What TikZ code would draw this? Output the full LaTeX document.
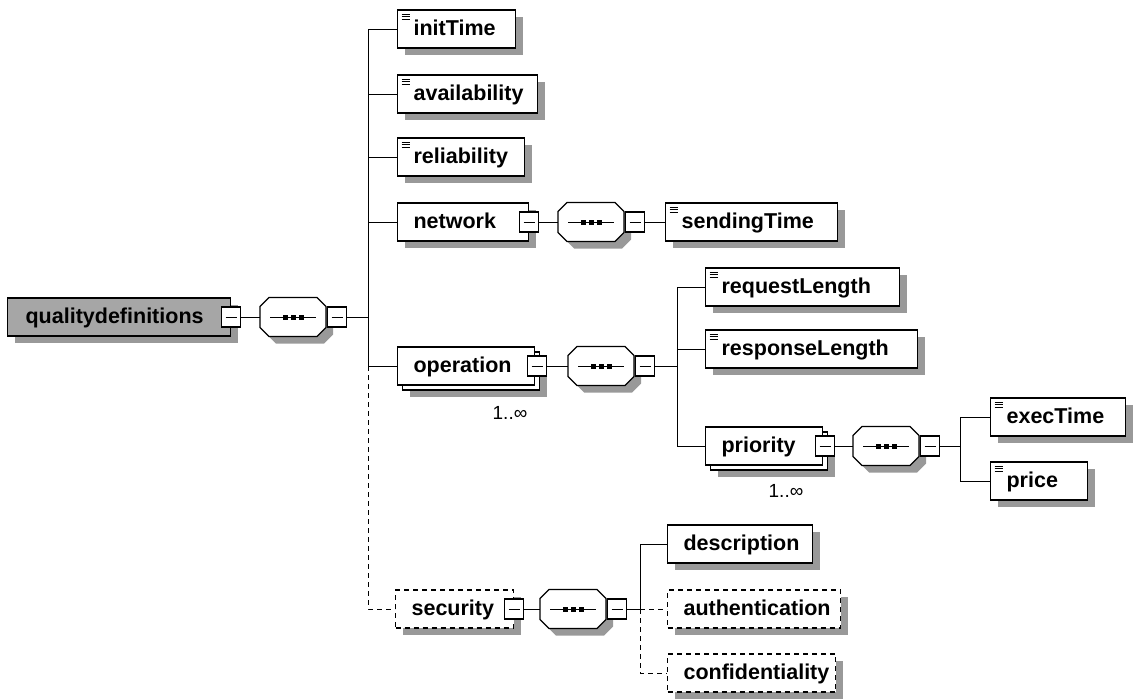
\documentclass[tikz,border=0pt]{standalone}
\usepackage{fontspec}
\setmainfont{Liberation Sans}
\usetikzlibrary{calc,shadows}

\newcommand\tagfont{\bfseries\fontsize{21.5}{25}\selectfont}
\newcommand\multfont{\fontsize{19}{23}\selectfont}

% outline of a sequence compositor (octagon) around node #1, moved by (#2,#3)
\newcommand\octpath[3]{%
  ($(#1.north west)+(9+#2,#3)$) -- ($(#1.north east)+(-9+#2,#3)$) --
  ($(#1.north east)+(#2,9+#3)$) -- ($(#1.south east)+(#2,-9+#3)$) --
  ($(#1.south east)+(-9+#2,#3)$) -- ($(#1.south west)+(9+#2,#3)$) --
  ($(#1.south west)+(#2,-9+#3)$) -- ($(#1.north west)+(#2,9+#3)$) -- cycle}

% shadow, outline and the dotted line of a sequence compositor
\newcommand\seqdraw[1]{%
  \fill[black!40] \octpath{#1}{7}{7};
  \draw[line width=1.2pt, fill=white] \octpath{#1}{0}{0};
  \draw[line width=1pt] ([xshift=10pt]#1.west) -- ([xshift=-10pt]#1.east);
  \foreach \d in {-8,0,8}
    \fill ([xshift=\d pt]#1.center) ++(-2.5pt,-2.5pt) rectangle ++(5pt,5pt);
}

\tikzset{
  wire/.style={line width=1pt},
  opt/.style={dash pattern=on 5pt off 4pt},
  shade/.style={drop shadow={shadow xshift=7pt,shadow yshift=-7pt,fill=black!40,opacity=1}},
  boxbase/.style={draw, fill=white, line width=1.2pt, anchor=west, inner xsep=16pt, inner ysep=0pt,
    minimum height=38pt, text height=16pt, text depth=3pt, align=left, text width=#1, font=\tagfont},
  elem/.style={boxbase=#1, shade},
  many/.style={boxbase=#1,
    drop shadow={shadow xshift=12pt,shadow yshift=-12pt,fill=black!40,opacity=1},
    copy shadow={shadow xshift=5pt,shadow yshift=-5pt,line width=1.2pt}},
  typed/.style={path picture={
      \foreach \d in {4,6.8,9.6}
        \draw[line width=0.7pt] ([xshift=4pt,yshift=-\d pt]path picture bounding box.north west) -- ++(8pt,0pt);}},
  minus/.style={draw, fill=white, line width=1.2pt, minimum width=19pt, minimum height=20pt, inner sep=0pt,
    path picture={\draw[line width=1pt] ([xshift=4pt]path picture bounding box.west)
      -- ([xshift=-4pt]path picture bounding box.east);}},
  seq/.style={minimum width=66pt, minimum height=39pt, inner sep=0pt, outer sep=0pt, anchor=west},
  mult/.style={font=\multfont, inner sep=0pt}
}

\begin{document}
\begin{tikzpicture}[x=1pt,y=-1pt]
\useasboundingbox (0,0) rectangle (1133,699);

% root element and its sequence
\node[elem=187pt, inner xsep=18pt, fill=black!35] (qd) at (7,317) {qualitydefinitions};
\node[minus] (qdm) at (qd.east) {};
\node[seq] (qds) at (260,317) {};
\seqdraw{qds}
\node[minus, anchor=west] (qdsm) at ([xshift=1pt]qds.east) {};
\coordinate (b1) at (368,317);
\draw[wire] (qdm) -- (qds);
\draw[wire] (qdsm) -- (b1);

% children of the root sequence
\node[elem=86pt, typed] (initTime) at (397,29) {initTime};
\node[elem=108pt, typed] (availability) at (397,94) {availability};
\node[elem=95pt, typed] (reliability) at (397,157) {reliability};
\node[elem=99pt] (network) at (397,222) {network};
\node[many=105pt] (operation) at (397,366) {operation};
\node[elem=86pt, opt] (security) at (395,609) {security};

\draw[wire] (b1) |- (initTime.west);
\draw[wire] (b1) |- (availability.west);
\draw[wire] (b1) |- (reliability.west);
\draw[wire] (b1) |- (network.west);
\draw[wire] (b1) |- (operation.west);
\draw[wire, opt] (b1 |- operation.west) |- (security.west);

% network
\node[minus] (netm) at (network.east) {};
\node[seq] (nets) at (558,222) {};
\seqdraw{nets}
\node[minus, anchor=west] (netsm) at ([xshift=1pt]nets.east) {};
\node[elem=140pt, typed] (sendingTime) at (665,222) {sendingTime};
\draw[wire] (netm) -- (nets);
\draw[wire] (netsm) -- (sendingTime);

% operation
\node[minus] (opm) at ([xshift=2pt]operation.east) {};
\node[mult] (opmult) at (510,413) {1..∞};
\node[seq] (ops) at (568,366) {};
\seqdraw{ops}
\node[minus, anchor=west] (opsm) at ([xshift=1pt]ops.east) {};
\coordinate (b2) at (677,366);
\draw[wire] (opm) -- (ops);
\draw[wire] (opsm) -- (b2);

\node[elem=162pt, typed] (requestLength) at (705,287) {requestLength};
\node[elem=180pt, typed] (responseLength) at (705,349) {responseLength};
\node[many=85pt] (priority) at (705,446) {priority};
\draw[wire] (b2) |- (requestLength.west);
\draw[wire] (b2) |- (responseLength.west);
\draw[wire] (b2) |- (priority.west);

% priority
\node[minus] (prm) at ([xshift=2pt]priority.east) {};
\node[mult] (prmult) at (786,491) {1..∞};
\node[seq] (prs) at (853,446) {};
\seqdraw{prs}
\node[minus, anchor=west] (prsm) at ([xshift=1pt]prs.east) {};
\coordinate (b3) at (960,446);
\draw[wire] (prm) -- (prs);
\draw[wire] (prsm) -- (b3);

\node[elem=103pt, typed] (execTime) at (990,417) {execTime};
\node[elem=65pt, typed] (price) at (990,481) {price};
\draw[wire] (b3) |- (execTime.west);
\draw[wire] (b3) |- (price.west);

% security
\node[minus] (secm) at (security.east) {};
\node[seq] (secs) at (540,609) {};
\seqdraw{secs}
\node[minus, anchor=west] (secsm) at ([xshift=1pt]secs.east) {};
\coordinate (b4) at (640,609);
\draw[wire] (secm) -- (secs);
\draw[wire] (secsm) -- (b4);

\node[elem=113pt] (description) at (667,544) {description};
\node[elem=141pt, opt] (authentication) at (667,609) {authentication};
\node[elem=136pt, opt] (confidentiality) at (667,673) {confidentiality};
\draw[wire] (b4) |- (description.west);
\draw[wire, opt] (b4) -- (authentication.west);
\draw[wire, opt] (b4) |- (confidentiality.west);
\end{tikzpicture}
\end{document}
